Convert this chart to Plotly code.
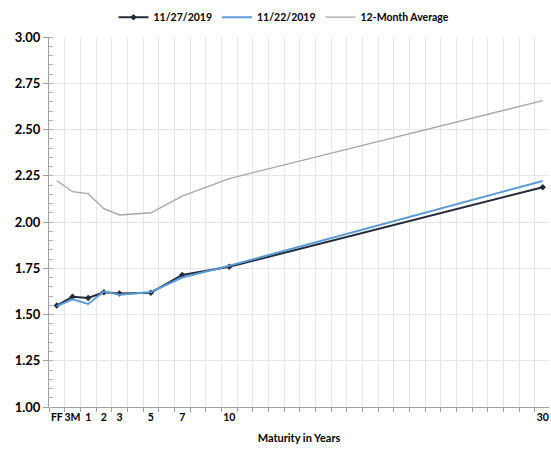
import plotly.graph_objects as go

x_vals = [-1, 0, 1, 2, 3, 5, 7, 10, 30]
x_labels = ["FF", "3M", "1", "2", "3", "5", "7", "10", "30"]
s_1127 = [1.548, 1.596, 1.589, 1.620, 1.614, 1.618, 1.714, 1.758, 2.188]
s_1122 = [1.545, 1.582, 1.557, 1.624, 1.607, 1.622, 1.700, 1.764, 2.222]
s_avg = [2.223, 2.164, 2.153, 2.072, 2.038, 2.050, 2.140, 2.235, 2.656]

font_family = "Lato"

fig = go.Figure()
fig.add_trace(go.Scatter(x=x_vals, y=s_1127, name="11/27/2019", mode="lines+markers",
                         line=dict(color="#222A3A", width=2),
                         marker=dict(symbol="diamond", size=5, color="#222A3A")))
fig.add_trace(go.Scatter(x=x_vals, y=s_1122, name="11/22/2019", mode="lines",
                         line=dict(color="#5B9BD5", width=2)))
fig.add_trace(go.Scatter(x=x_vals, y=s_avg, name="12-Month Average", mode="lines",
                         line=dict(color="#A6A6A6", width=1.3)))

fig.update_layout(
    width=551, height=451,
    margin=dict(l=49, r=2, t=37, b=44, autoexpand=False),
    plot_bgcolor="white", paper_bgcolor="white",
    font=dict(family=font_family, size=11, color="#000000"),
    showlegend=True,
    legend=dict(orientation="h", x=0.47, xanchor="center", xref="paper",
                yref="container", y=0.962, yanchor="middle",
                font=dict(family=font_family, size=10.5, color="#000000", weight="bold"),
                traceorder="normal", itemwidth=30),
    xaxis=dict(
        range=[-1.5, 30.4], automargin=False,
        tickmode="array", tickvals=x_vals, ticktext=x_labels, tickangle=0,
        ticks="", showgrid=False, zeroline=False,
        showline=True, linecolor="#A0A0A0", linewidth=1,
        tickfont=dict(family=font_family, size=10.5, weight="bold"),
        title=dict(text="Maturity in Years", font=dict(family=font_family, size=11, weight="bold"), standoff=12),
        minor=dict(tick0=-1.5, dtick=1, showgrid=True, gridcolor="#E6E6E6", gridwidth=1,
                   ticks="outside", ticklen=4, tickcolor="#A0A0A0"),
    ),
    yaxis=dict(
        range=[1.0, 3.0], tick0=1.0, dtick=0.25, tickformat=".2f", automargin=False,
        showgrid=True, gridcolor="#E6E6E6", gridwidth=1, zeroline=False,
        showline=True, linecolor="#A0A0A0", linewidth=1,
        ticks="outside", ticklen=5, tickcolor="#A0A0A0",
        tickfont=dict(family=font_family, size=13, weight="bold"),
        minor=dict(dtick=0.05, ticks="inside", ticklen=4, tickcolor="#B0B0B0", showgrid=False),
    ),
)

fig.write_html("out.html", config={"displayModeBar": False},
               post_script="document.body.style.margin='0';")
